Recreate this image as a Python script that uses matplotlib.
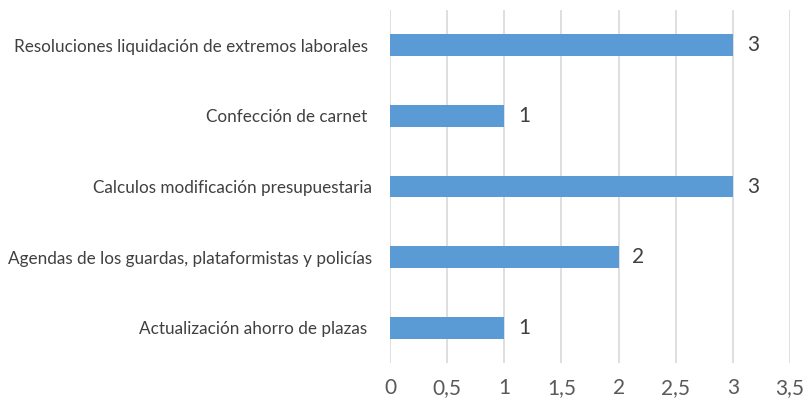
import matplotlib
matplotlib.use("Agg")
import matplotlib.pyplot as plt
from matplotlib.ticker import FuncFormatter

categories = [
    "Resoluciones liquidación de extremos laborales ",
    "Confección de carnet ",
    "Calculos modificación presupuestaria",
    "Agendas de los guardas, plataformistas y policías",
    "Actualización ahorro de plazas ",
]
values = [3, 1, 3, 2, 1]
xticks = [0, 0.5, 1, 1.5, 2, 2.5, 3, 3.5]

plt.rcParams['font.family'] = ['Lato', 'DejaVu Sans']

fig = plt.figure(figsize=(8.06, 4.05), dpi=100)
ax = fig.add_axes([390/806, 1-363/405, 400/806, 353/405])

pos = list(range(len(categories)))
bars = ax.barh(pos, values, height=0.31, color='#5B9BD5', zorder=3)
ax.set_ylim(len(categories)-0.5, -0.5)
ax.set_xlim(0, 3.5)
ax.set_xticks(xticks)
ax.xaxis.set_major_formatter(FuncFormatter(lambda v, p: f"{v:g}".replace('.', ',')))
ax.set_yticks(pos)
ax.set_yticklabels(categories, fontsize=12.3, color='#404040')
ax.tick_params(axis='y', length=0, pad=13)
ax.tick_params(axis='x', length=0, pad=11, labelsize=15, labelcolor='#595959')
ax.grid(axis='x', color='#D9D9D9', linewidth=1.2, zorder=0)
for s in ax.spines.values():
    s.set_visible(False)

for b, v in zip(bars, values):
    ax.annotate(f"{v}", (b.get_width(), b.get_y() + b.get_height()/2),
                xytext=(10, 0), textcoords='offset points', va='center', ha='left',
                fontsize=15, color='#404040')

fig.savefig('out.png', dpi=100)
